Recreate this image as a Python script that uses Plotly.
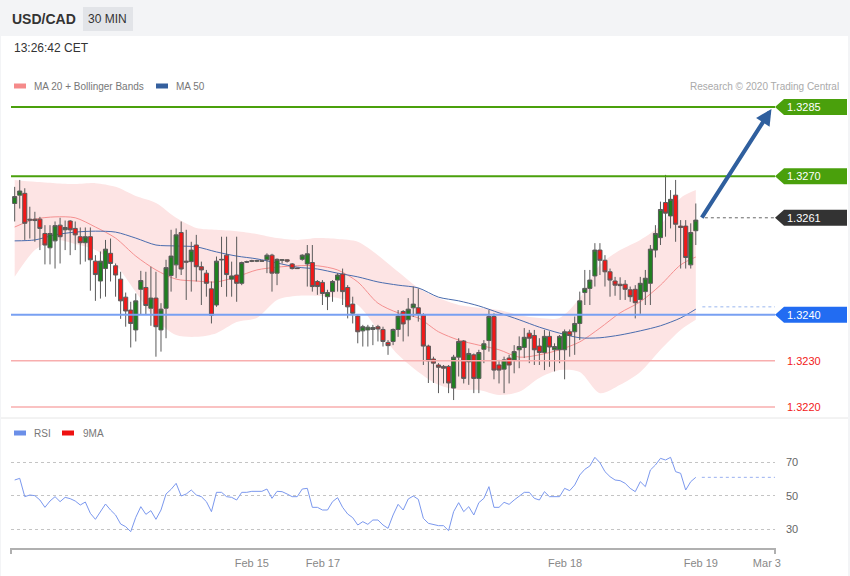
import plotly.graph_objects as go

W, H = 850, 576
def px(x): return x / W
def py(y): return 1 - y / H

FONT = "Liberation Sans, Arial, sans-serif"

# ---------------- data ----------------
idx = list(range(136))
open_ = [1.32641,1.32659,1.32663,1.32607,1.32607,1.32607,1.32576,1.32545,1.32560,1.32594,
         1.32584,1.32603,1.32587,1.32569,1.32556,1.32569,1.32516,1.32473,1.32500,1.32533,
         1.32506,1.32477,1.32438,1.32410,1.32367,1.32455,1.32459,1.32414,1.32436,1.32367,
         1.32414,1.32485,1.32508,1.32578,1.32516,1.32515,1.32551,1.32504,1.32490,1.32456,
         1.32421,1.32520,1.32529,1.32477,1.32486,1.32468,1.32515,1.32517,1.32516,1.32517,
         1.32519,1.32529,1.32490,1.32518,1.32519,1.32510,1.32501,1.32520,1.32510,1.32513,
         1.32472,1.32470,1.32439,1.32450,1.32475,1.32488,1.32459,1.32423,1.32397,1.32365,
         1.32367,1.32368,1.32374,1.32368,1.32340,1.32342,1.32368,1.32407,1.32389,1.32415,
         1.32415,1.32399,1.32332,1.32304,1.32291,1.32288,1.32288,1.32241,1.32308,1.32343,
         1.32298,1.32313,1.32262,1.32325,1.32344,1.32396,1.32291,1.32282,1.32306,1.32302,
         1.32324,1.32329,1.32360,1.32355,1.32332,1.32318,1.32353,1.32324,1.32324,1.32324,
         1.32363,1.32363,1.32381,1.32448,1.32457,1.32484,1.32540,1.32518,1.32493,1.32473,
         1.32466,1.32466,1.32454,1.32455,1.32433,1.32450,1.32468,1.32540,1.32567,1.32643,
         1.32614,1.32659,1.32592,1.32592,1.32508,1.32582]
high = [1.32677,1.32692,1.32674,1.32634,1.32623,1.32612,1.32594,1.32594,1.32602,1.32610,
        1.32604,1.32605,1.32602,1.32589,1.32589,1.32589,1.32529,1.32537,1.32562,1.32565,
        1.32511,1.32493,1.32448,1.32428,1.32446,1.32495,1.32493,1.32504,1.32493,1.32425,
        1.32519,1.32584,1.32587,1.32602,1.32584,1.32558,1.32573,1.32515,1.32497,1.32472,
        1.32526,1.32569,1.32569,1.32515,1.32569,1.32515,1.32517,1.32519,1.32519,1.32518,
        1.32533,1.32532,1.32522,1.32520,1.32520,1.32512,1.32502,1.32531,1.32551,1.32551,
        1.32475,1.32475,1.32454,1.32475,1.32490,1.32500,1.32464,1.32439,1.32399,1.32378,
        1.32378,1.32378,1.32378,1.32374,1.32345,1.32370,1.32410,1.32410,1.32436,1.32461,
        1.32457,1.32403,1.32335,1.32309,1.32295,1.32291,1.32291,1.32313,1.32349,1.32345,
        1.32327,1.32316,1.32324,1.32345,1.32410,1.32403,1.32302,1.32309,1.32313,1.32334,
        1.32353,1.32371,1.32367,1.32367,1.32349,1.32367,1.32364,1.32338,1.32356,1.32368,
        1.32368,1.32396,1.32450,1.32497,1.32497,1.32555,1.32555,1.32529,1.32500,1.32482,
        1.32481,1.32475,1.32461,1.32464,1.32482,1.32497,1.32551,1.32594,1.32645,1.32703,
        1.32670,1.32692,1.32605,1.32605,1.32598,1.32641]
low = [1.32602,1.32630,1.32562,1.32565,1.32558,1.32540,1.32509,1.32509,1.32500,1.32511,
       1.32540,1.32529,1.32540,1.32509,1.32515,1.32452,1.32430,1.32435,1.32439,1.32472,
       1.32439,1.32391,1.32374,1.32329,1.32342,1.32400,1.32400,1.32376,1.32309,1.32320,
       1.32349,1.32450,1.32479,1.32486,1.32432,1.32450,1.32472,1.32421,1.32439,1.32381,
       1.32417,1.32460,1.32439,1.32439,1.32428,1.32464,1.32512,1.32514,1.32514,1.32515,
       1.32490,1.32450,1.32464,1.32511,1.32513,1.32498,1.32499,1.32517,1.32461,1.32450,
       1.32443,1.32421,1.32410,1.32428,1.32450,1.32421,1.32392,1.32381,1.32338,1.32331,
       1.32331,1.32334,1.32342,1.32331,1.32313,1.32334,1.32352,1.32342,1.32353,1.32395,
       1.32385,1.32291,1.32252,1.32252,1.32230,1.32251,1.32230,1.32215,1.32266,1.32251,
       1.32248,1.32230,1.32230,1.32295,1.32320,1.32260,1.32251,1.32230,1.32251,1.32273,
       1.32284,1.32306,1.32295,1.32291,1.32291,1.32280,1.32287,1.32277,1.32295,1.32260,
       1.32309,1.32313,1.32345,1.32421,1.32421,1.32461,1.32486,1.32461,1.32439,1.32441,
       1.32432,1.32432,1.32428,1.32392,1.32402,1.32421,1.32421,1.32524,1.32551,1.32569,
       1.32587,1.32558,1.32500,1.32500,1.32500,1.32551]
close = [1.32656,1.32668,1.32598,1.32605,1.32604,1.32587,1.32551,1.32576,1.32593,1.32569,
         1.32589,1.32584,1.32573,1.32556,1.32569,1.32519,1.32487,1.32516,1.32542,1.32511,
         1.32486,1.32430,1.32408,1.32381,1.32430,1.32474,1.32420,1.32436,1.32374,1.32412,
         1.32502,1.32527,1.32573,1.32499,1.32514,1.32540,1.32504,1.32497,1.32468,1.32399,
         1.32516,1.32519,1.32487,1.32484,1.32468,1.32513,1.32514,1.32516,1.32517,1.32516,
         1.32529,1.32490,1.32520,1.32519,1.32516,1.32500,1.32500,1.32529,1.32532,1.32461,
         1.32461,1.32446,1.32448,1.32472,1.32486,1.32450,1.32417,1.32403,1.32363,1.32374,
         1.32373,1.32372,1.32369,1.32342,1.32333,1.32368,1.32397,1.32380,1.32412,1.32423,
         1.32401,1.32332,1.32300,1.32295,1.32286,1.32284,1.32252,1.32308,1.32342,1.32262,
         1.32316,1.32262,1.32318,1.32337,1.32396,1.32280,1.32280,1.32302,1.32291,1.32320,
         1.32331,1.32351,1.32349,1.32324,1.32318,1.32353,1.32330,1.32331,1.32353,1.32363,
         1.32355,1.32381,1.32430,1.32457,1.32475,1.32540,1.32518,1.32493,1.32475,1.32464,
         1.32463,1.32455,1.32439,1.32426,1.32468,1.32479,1.32542,1.32576,1.32628,1.32620,
         1.32650,1.32596,1.32589,1.32524,1.32578,1.32605]

band_idx = [0,4,8,12,16,20,24,28,32,36,40,44,48,52,56,60,64,68,72,76,80,84,88,92,96,100,
            104,108,112,116,120,124,128,132,135]
bb_upper = [1.32692,1.32688,1.32685,1.32683,1.32685,1.32677,1.32657,1.32642,1.32610,1.32588,
            1.32584,1.32581,1.32575,1.32566,1.32562,1.32566,1.32564,1.32558,1.32529,1.32493,
            1.32458,1.32436,1.32421,1.32415,1.32410,1.32399,1.32393,1.32393,1.32436,1.32508,
            1.32540,1.32562,1.32594,1.32653,1.32670]
bb_lower = [1.32482,1.32540,1.32562,1.32553,1.32540,1.32508,1.32449,1.32389,1.32356,1.32352,
            1.32360,1.32384,1.32393,1.32432,1.32441,1.32441,1.32436,1.32421,1.32367,1.32313,
            1.32276,1.32248,1.32237,1.32237,1.32226,1.32233,1.32263,1.32280,1.32276,1.32230,
            1.32248,1.32276,1.32324,1.32367,1.32389]
ma20 = [1.32590,1.32607,1.32612,1.32610,1.32590,1.32566,1.32527,1.32497,1.32477,1.32473,
        1.32471,1.32482,1.32497,1.32503,1.32506,1.32506,1.32497,1.32471,1.32425,1.32404,
        1.32393,1.32363,1.32345,1.32334,1.32324,1.32308,1.32313,1.32324,1.32341,1.32371,
        1.32404,1.32428,1.32464,1.32508,1.32525]
ma50 = [1.32560,1.32562,1.32573,1.32579,1.32581,1.32579,1.32566,1.32551,1.32549,1.32547,
        1.32536,1.32527,1.32521,1.32512,1.32503,1.32499,1.32490,1.32482,1.32471,1.32464,
        1.32458,1.32438,1.32430,1.32419,1.32404,1.32389,1.32373,1.32360,1.32350,1.32350,
        1.32356,1.32365,1.32376,1.32393,1.32412]

rsi = [59.4,60.4,49.4,50.4,50.0,47.4,43.0,46.8,49.4,46.4,49.0,48.2,46.8,44.4,46.2,39.4,35.8,
       40.4,45.0,41.4,38.4,33.0,31.4,28.4,37.0,43.4,38.8,41.0,35.8,41.4,51.0,53.8,57.4,49.8,
       51.0,53.4,50.4,49.4,46.4,40.4,52.0,52.0,49.4,49.0,47.4,52.0,52.0,52.6,52.6,52.6,54.0,
       48.4,52.6,52.4,51.0,49.4,49.4,54.0,54.4,43.0,43.0,41.4,41.4,46.4,48.8,43.0,39.0,36.8,
       32.4,34.4,32.8,35.4,35.4,32.4,30.4,38.4,44.8,41.4,48.0,49.8,47.8,
       36.4,33.4,32.8,32.0,32.0,29.0,40.4,45.8,40.4,43.4,38.4,45.8,48.4,55.4,43.0,43.0,46.0,
       44.8,47.4,50.0,52.0,52.0,48.4,47.4,52.4,49.4,49.4,49.4,54.4,53.0,56.4,62.4,65.8,67.8,
       73.0,69.8,64.4,61.4,59.4,59.0,57.4,54.4,52.4,58.4,55.4,65.4,68.4,72.4,71.4,73.0,64.4,
       63.4,53.4,58.4,61.0]
rsi_levels = [30, 50, 70]
rsi_labels = ["30", "50", "70"]

tick_pos = [47.0, 61.1, 109.1, 136.0, 149.1]
tick_text = ["Feb 15", "Feb 17", "Feb 18", "Feb 19", "Mar 3"]

res_levels = [1.3285, 1.3270]
cur_price = 1.3261
piv_level = 1.3240
sup_levels = [1.3230, 1.3220]
ma50_last = 1.32417
arrow_from = (136.0, 1.32607)
arrow_to = (150.0, 1.32846)

X_RANGE = [-0.73, 150.7]
Y_RANGE = [1.321783, 1.328761]
R_RANGE = [18.6, 83.4]

GREEN = "#4aa00c"
BLUE_LINE = "#78a0f2"
BLUE_TAG = "#226cf2"
RED_LINE = "#f8aeae"
RED_TXT = "#f22020"

fig = go.Figure()

fig.add_trace(go.Scatter(x=band_idx, y=bb_upper, mode="lines", line=dict(width=0, shape="spline", smoothing=0.8),
                         hoverinfo="skip", showlegend=False, xaxis="x", yaxis="y"))
fig.add_trace(go.Scatter(x=band_idx, y=bb_lower, mode="lines", line=dict(width=0, shape="spline", smoothing=0.8),
                         fill="tonexty", fillcolor="#fde4e4", hoverinfo="skip", showlegend=False, xaxis="x", yaxis="y"))
fig.add_trace(go.Scatter(x=band_idx, y=ma20, mode="lines", line=dict(width=1, color="#f59090", shape="spline", smoothing=0.8),
                         hoverinfo="skip", showlegend=False, xaxis="x", yaxis="y"))
fig.add_trace(go.Scatter(x=band_idx, y=ma50, mode="lines", line=dict(width=1, color="#4a6cae", shape="spline", smoothing=0.8),
                         hoverinfo="skip", showlegend=False, xaxis="x", yaxis="y"))

fig.add_trace(go.Candlestick(x=idx, open=open_, high=high, low=low, close=close,
                             increasing=dict(line=dict(color="#5a5a5a", width=1), fillcolor="#1f801f"),
                             decreasing=dict(line=dict(color="#5a5a5a", width=1), fillcolor="#f21818"),
                             whiskerwidth=0, showlegend=False, xaxis="x", yaxis="y3"))

fig.add_trace(go.Scatter(x=idx, y=rsi, mode="lines", line=dict(width=1, color="#7b98ee"),
                         hoverinfo="skip", showlegend=False, xaxis="x2", yaxis="y2"))

shapes = []
annots = []

shapes.append(dict(type="rect", xref="paper", yref="paper", x0=px(1), x1=px(848), y0=py(576), y1=py(36),
                   fillcolor="white", line=dict(width=0), layer="below"))
shapes.append(dict(type="line", xref="paper", yref="paper", x0=px(1), x1=px(848), y0=py(418), y1=py(418),
                   line=dict(color="#e6e6e6", width=1), layer="below"))
shapes.append(dict(type="rect", xref="paper", yref="paper", x0=px(83), x1=px(133), y0=py(31), y1=py(7),
                   fillcolor="#e2e4e8", line=dict(width=0), layer="below"))

for v in res_levels:
    shapes.append(dict(type="line", xref="paper", yref="y", x0=px(11), x1=px(775), y0=v, y1=v,
                       line=dict(color=GREEN, width=2)))
shapes.append(dict(type="line", xref="paper", yref="y", x0=px(11), x1=px(775), y0=piv_level, y1=piv_level,
                   line=dict(color=BLUE_LINE, width=2)))
for v in sup_levels:
    shapes.append(dict(type="line", xref="paper", yref="y", x0=px(11), x1=px(775), y0=v, y1=v,
                       line=dict(color=RED_LINE, width=1.5)))
shapes.append(dict(type="line", xref="x", yref="y", x0=136.8, x1=X_RANGE[1], y0=cur_price, y1=cur_price,
                   line=dict(color="#666", width=1, dash="dot")))
shapes.append(dict(type="line", xref="x", yref="y", x0=136.3, x1=X_RANGE[1], y0=ma50_last, y1=ma50_last,
                   line=dict(color="#9ab6ee", width=1, dash="dot")))

tag_path = "M0,0 L9,8 L72,8 L72,-8 L9,-8 Z"
for v, col in [(res_levels[0], GREEN), (res_levels[1], GREEN), (cur_price, "#333333"), (piv_level, BLUE_TAG)]:
    shapes.append(dict(type="path", xref="paper", yref="y", xsizemode="pixel", ysizemode="pixel",
                       xanchor=px(775), yanchor=v, path=tag_path, fillcolor=col, line=dict(width=0)))
    annots.append(dict(xref="paper", yref="y", x=px(785), y=v, text=f"{v:.4f}", showarrow=False,
                       xanchor="left", yanchor="middle", font=dict(family=FONT, size=11, color="white")))
for v in sup_levels:
    annots.append(dict(xref="paper", yref="y", x=px(785), y=v, text=f"{v:.4f}", showarrow=False,
                       xanchor="left", yanchor="middle", font=dict(family=FONT, size=11, color=RED_TXT)))

annots.append(dict(xref="x", yref="y", axref="x", ayref="y", x=arrow_to[0], y=arrow_to[1],
                   ax=arrow_from[0], ay=arrow_from[1], text="", showarrow=True,
                   arrowhead=2, arrowsize=0.8, arrowwidth=4, arrowcolor="#2f5f9e"))

shapes.append(dict(type="line", xref="x2", yref="y2", x0=136.2, x1=X_RANGE[1], y0=rsi[-1], y1=rsi[-1],
                   line=dict(color="#9ab0f0", width=1, dash="dot")))
for xe in (11, 775):
    shapes.append(dict(type="line", xref="paper", yref="paper", x0=px(xe), x1=px(xe), y0=py(548), y1=py(554),
                       line=dict(color="#b0b0b0", width=2)))
for v, t in zip(rsi_levels, rsi_labels):
    annots.append(dict(xref="paper", yref="y2", x=px(784), y=v, text=t, showarrow=False,
                       xanchor="left", yanchor="middle", font=dict(family=FONT, size=11, color="#666")))

def text(x, y, s, size, color, anchor="left", bold=False):
    annots.append(dict(xref="paper", yref="paper", x=px(x), y=py(y), text=f"<b>{s}</b>" if bold else s,
                       showarrow=False, xanchor=anchor, yanchor="middle",
                       font=dict(family=FONT, size=size, color=color)))

text(10, 19, "USD/CAD", 14, "#333", bold=True)
text(108, 19, "30 MIN", 12, "#333", anchor="center")
text(12, 48, "13:26:42 CET", 12, "#333")
text(32, 86, "MA 20 + Bollinger Bands", 10, "#777")
text(174, 86, "MA 50", 10, "#777")
text(841, 86, "Research © 2020 Trading Central", 10, "#aaa", anchor="right")
text(32, 433, "RSI", 10, "#777")
text(81, 433, "9MA", 10, "#777")

for x0, x1, y, col in [(14, 26, 86, "#f58a8a"), (156, 168, 86, "#35609e"), (14, 26, 433, "#6b8fe8"), (62, 74, 433, "#ee1111")]:
    shapes.append(dict(type="rect", xref="paper", yref="paper", x0=px(x0), x1=px(x1), y0=py(y + 2.5), y1=py(y - 2.5),
                       fillcolor=col, line=dict(width=0)))

fig.update_layout(
    width=W, height=H, margin=dict(l=0, r=0, t=0, b=0, autoexpand=False),
    paper_bgcolor="#f3f4f6", plot_bgcolor="rgba(0,0,0,0)",
    showlegend=False, hovermode=False, boxgap=0.15, boxgroupgap=0.05,
    xaxis=dict(domain=[px(11), px(775)], range=X_RANGE, visible=False, rangeslider=dict(visible=False), fixedrange=True),
    yaxis=dict(domain=[py(417), py(95)], range=Y_RANGE, visible=False, fixedrange=True),
    yaxis3=dict(domain=[py(417), py(95)], range=Y_RANGE, visible=False, fixedrange=True, overlaying="y", anchor="x"),
    xaxis2=dict(domain=[px(11), px(775)], range=X_RANGE, anchor="y2", showline=True, linecolor="#b0b0b0",
                linewidth=2, showgrid=False, zeroline=False, tickmode="array", tickvals=tick_pos,
                ticktext=tick_text, ticks="outside", ticklen=4, tickcolor="rgba(0,0,0,0)",
                tickfont=dict(family=FONT, size=11, color="#888"), fixedrange=True),
    yaxis2=dict(domain=[py(548), py(440)], range=R_RANGE, anchor="x2", showline=False, zeroline=False,
                showticklabels=False, tickmode="array", tickvals=rsi_levels, showgrid=True,
                gridcolor="#c4c4c4", griddash="dot", gridwidth=1, fixedrange=True),
    shapes=shapes, annotations=annots,
)

post = ("document.body.style.margin='0px';document.body.style.overflow='hidden';"
        "var gd=document.getElementById('{plot_id}');"
        "Plotly.relayout(gd,{width:850,height:576});")
fig.write_html("out.html", config={"displayModeBar": False, "responsive": False}, post_script=post)
